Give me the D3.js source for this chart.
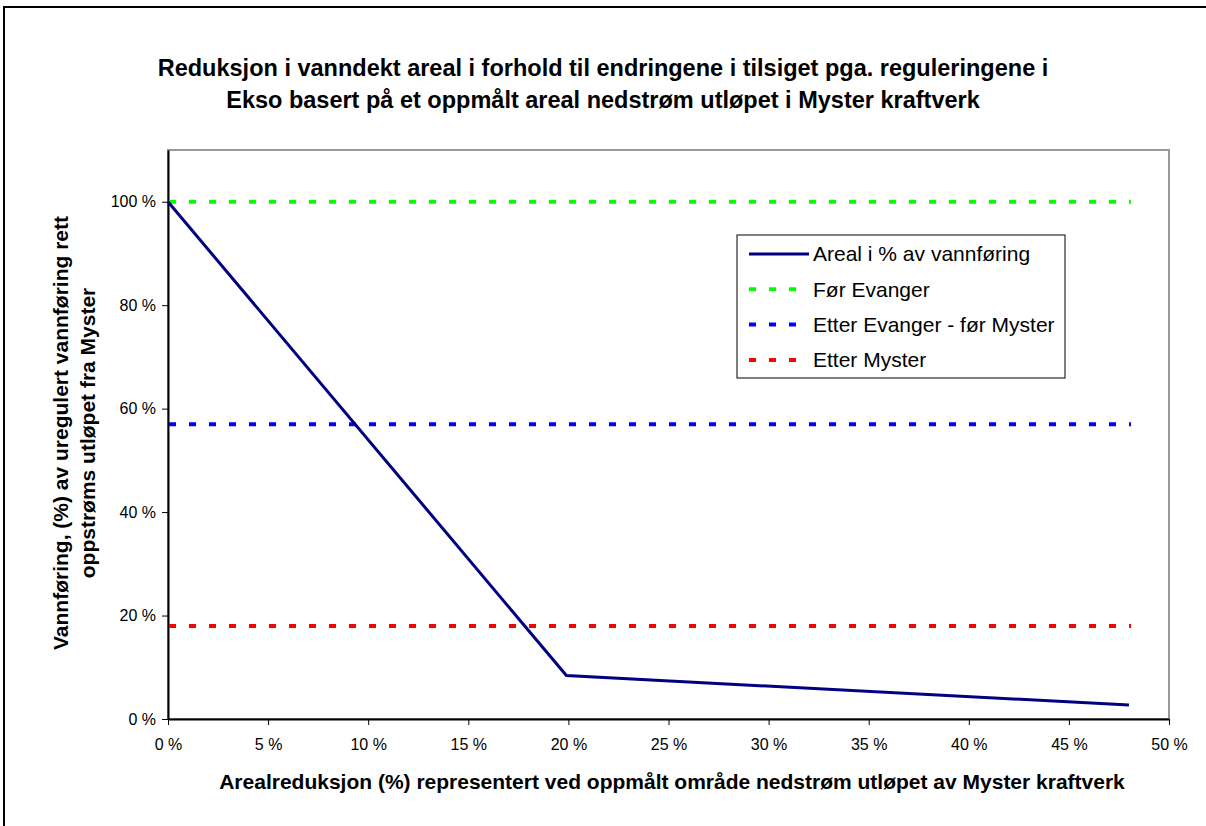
<!DOCTYPE html>
<html>
<head>
<meta charset="utf-8">
<script src="https://cdn.jsdelivr.net/npm/d3@7"></script>
<style>
    body { margin: 0; background: #fff; }
    text { font-family: "Liberation Sans", Arial, sans-serif; fill: #000; }
    .tick text { font-size: 16px; }
    .axisTitle { font-size: 21px; font-weight: bold; }
    .plotTitle { font-size: 23.5px; font-weight: bold; }
    .legendText { font-size: 21px; }
</style>
</head>
<body>
<script>
// data
var xValues = [0, 19.9, 48.0];
var yValues = [100, 8.4, 2.7];
var seriesName = "Areal i % av vannføring";

var refNames = ["Før Evanger", "Etter Evanger - før Myster", "Etter Myster"];
var refValues = [100, 57, 18];
var refColors = ["#00ff00", "#0000ff", "#ff0000"];

var xTicks = [0, 5, 10, 15, 20, 25, 30, 35, 40, 45, 50];
var yTicks = [0, 20, 40, 60, 80, 100];

var titleLines = ["Reduksjon i vanndekt areal i forhold til endringene i tilsiget pga. reguleringene i",
                  "Ekso basert på et oppmålt areal nedstrøm utløpet i Myster kraftverk"];
var xTitle = "Arealreduksjon (%) representert ved oppmålt område nedstrøm utløpet av Myster kraftverk";
var yTitleLines = ["Vannføring, (%) av uregulert vannføring rett", "oppstrøms utløpet fra Myster"];

// size of svg and plot area
var fullWidth = 1206;
var fullHeight = 826;
var margin = {top: 150, right: 37, bottom: 107, left: 168};
var width = fullWidth - margin.left - margin.right;
var height = fullHeight - margin.top - margin.bottom;

var svg = d3.select("body")
            .append("svg")
            .attr("width", fullWidth)
            .attr("height", fullHeight);

// outer chart frame (only left and top visible)
svg.append("path")
   .attr("d", "M4,826 L4,7 L1206,7")
   .attr("fill", "none")
   .attr("stroke", "#000")
   .attr("stroke-width", 2);

var xScale = d3.scaleLinear()
               .domain([0, 50])
               .range([margin.left, margin.left + width]);

var yScale = d3.scaleLinear()
               .domain([0, 110])
               .range([margin.top + height, margin.top]);

// plot area border (gray top and right)
svg.append("rect")
   .attr("x", margin.left)
   .attr("y", margin.top)
   .attr("width", width)
   .attr("height", height)
   .attr("fill", "#fff")
   .attr("stroke", "#999")
   .attr("stroke-width", 2);

// axes
var xAxis = d3.axisBottom(xScale)
              .tickValues(xTicks)
              .tickSize(6)
              .tickSizeOuter(0)
              .tickFormat(function(d) { return d + " %"; });

var yAxis = d3.axisLeft(yScale)
              .tickValues(yTicks)
              .tickSize(6)
              .tickSizeOuter(0)
              .tickFormat(function(d) { return d + " %"; });

var gx = svg.append("g")
   .attr("transform", "translate(0," + (margin.top + height) + ")")
   .call(xAxis);
gx.select(".domain").attr("stroke", "#000").attr("stroke-width", 2);
gx.selectAll(".tick line").attr("stroke", "#000");
gx.selectAll(".tick text").attr("y", 20).attr("fill", "#000");

var gy = svg.append("g")
   .attr("transform", "translate(" + margin.left + ",0)")
   .call(yAxis);
gy.select(".domain").attr("stroke", "#000").attr("stroke-width", 2);
gy.selectAll(".tick line").attr("stroke", "#000");
gy.selectAll(".tick text").attr("x", -12).attr("fill", "#000");

// reference lines
svg.selectAll(".refLine")
   .data(refValues)
   .enter()
   .append("line")
   .attr("class", "refLine")
   .attr("x1", xScale(0) + 1)
   .attr("x2", xScale(48.1))
   .attr("y1", function(d) { return yScale(d); })
   .attr("y2", function(d) { return yScale(d); })
   .attr("stroke", function(d, i) { return refColors[i]; })
   .attr("stroke-width", 4)
   .attr("stroke-dasharray", "7,13");

// main series
var points = xValues.map(function(x, i) { return [x, yValues[i]]; });
var line = d3.line()
             .x(function(d) { return xScale(d[0]); })
             .y(function(d) { return yScale(d[1]); });

svg.append("path")
   .datum(points)
   .attr("d", line)
   .attr("fill", "none")
   .attr("stroke", "#000080")
   .attr("stroke-width", 3);

// title
svg.selectAll(".plotTitle")
   .data(titleLines)
   .enter()
   .append("text")
   .attr("class", "plotTitle")
   .attr("x", 603)
   .attr("y", function(d, i) { return 76 + i * 32; })
   .attr("text-anchor", "middle")
   .text(function(d) { return d; });

// axis titles
svg.append("text")
   .attr("class", "axisTitle")
   .attr("x", 672)
   .attr("y", 789)
   .attr("text-anchor", "middle")
   .text(xTitle);

svg.selectAll(".yTitle")
   .data(yTitleLines)
   .enter()
   .append("text")
   .attr("class", "axisTitle yTitle")
   .attr("transform", function(d, i) {
       return "translate(" + (68 + i * 27) + ",433) rotate(-90)";
   })
   .attr("text-anchor", "middle")
   .text(function(d) { return d; });

// legend
var legendX = 737, legendY = 235;
svg.append("rect")
   .attr("x", legendX)
   .attr("y", legendY)
   .attr("width", 328)
   .attr("height", 143)
   .attr("fill", "#fff")
   .attr("stroke", "#000")
   .attr("stroke-width", 1);

var legendNames = [seriesName].concat(refNames);
var legendColors = ["#000080"].concat(refColors);

var legend = svg.selectAll(".legend")
                .data(legendNames)
                .enter()
                .append("g")
                .attr("class", "legend")
                .attr("transform", function(d, i) {
                    return "translate(" + legendX + "," + (legendY + 19 + i * 35.3) + ")";
                });

legend.append("line")
      .attr("x1", 12)
      .attr("x2", function(d, i) { return i == 0 ? 72 : 70; })
      .attr("y1", 0)
      .attr("y2", 0)
      .attr("stroke", function(d, i) { return legendColors[i]; })
      .attr("stroke-width", function(d, i) { return i == 0 ? 3 : 4; })
      .attr("stroke-dasharray", function(d, i) { return i == 0 ? null : "7,13"; });

legend.append("text")
      .attr("class", "legendText")
      .attr("x", 76)
      .attr("y", 0)
      .attr("dy", "0.35em")
      .text(function(d) { return d; });
</script>
</body>
</html>
